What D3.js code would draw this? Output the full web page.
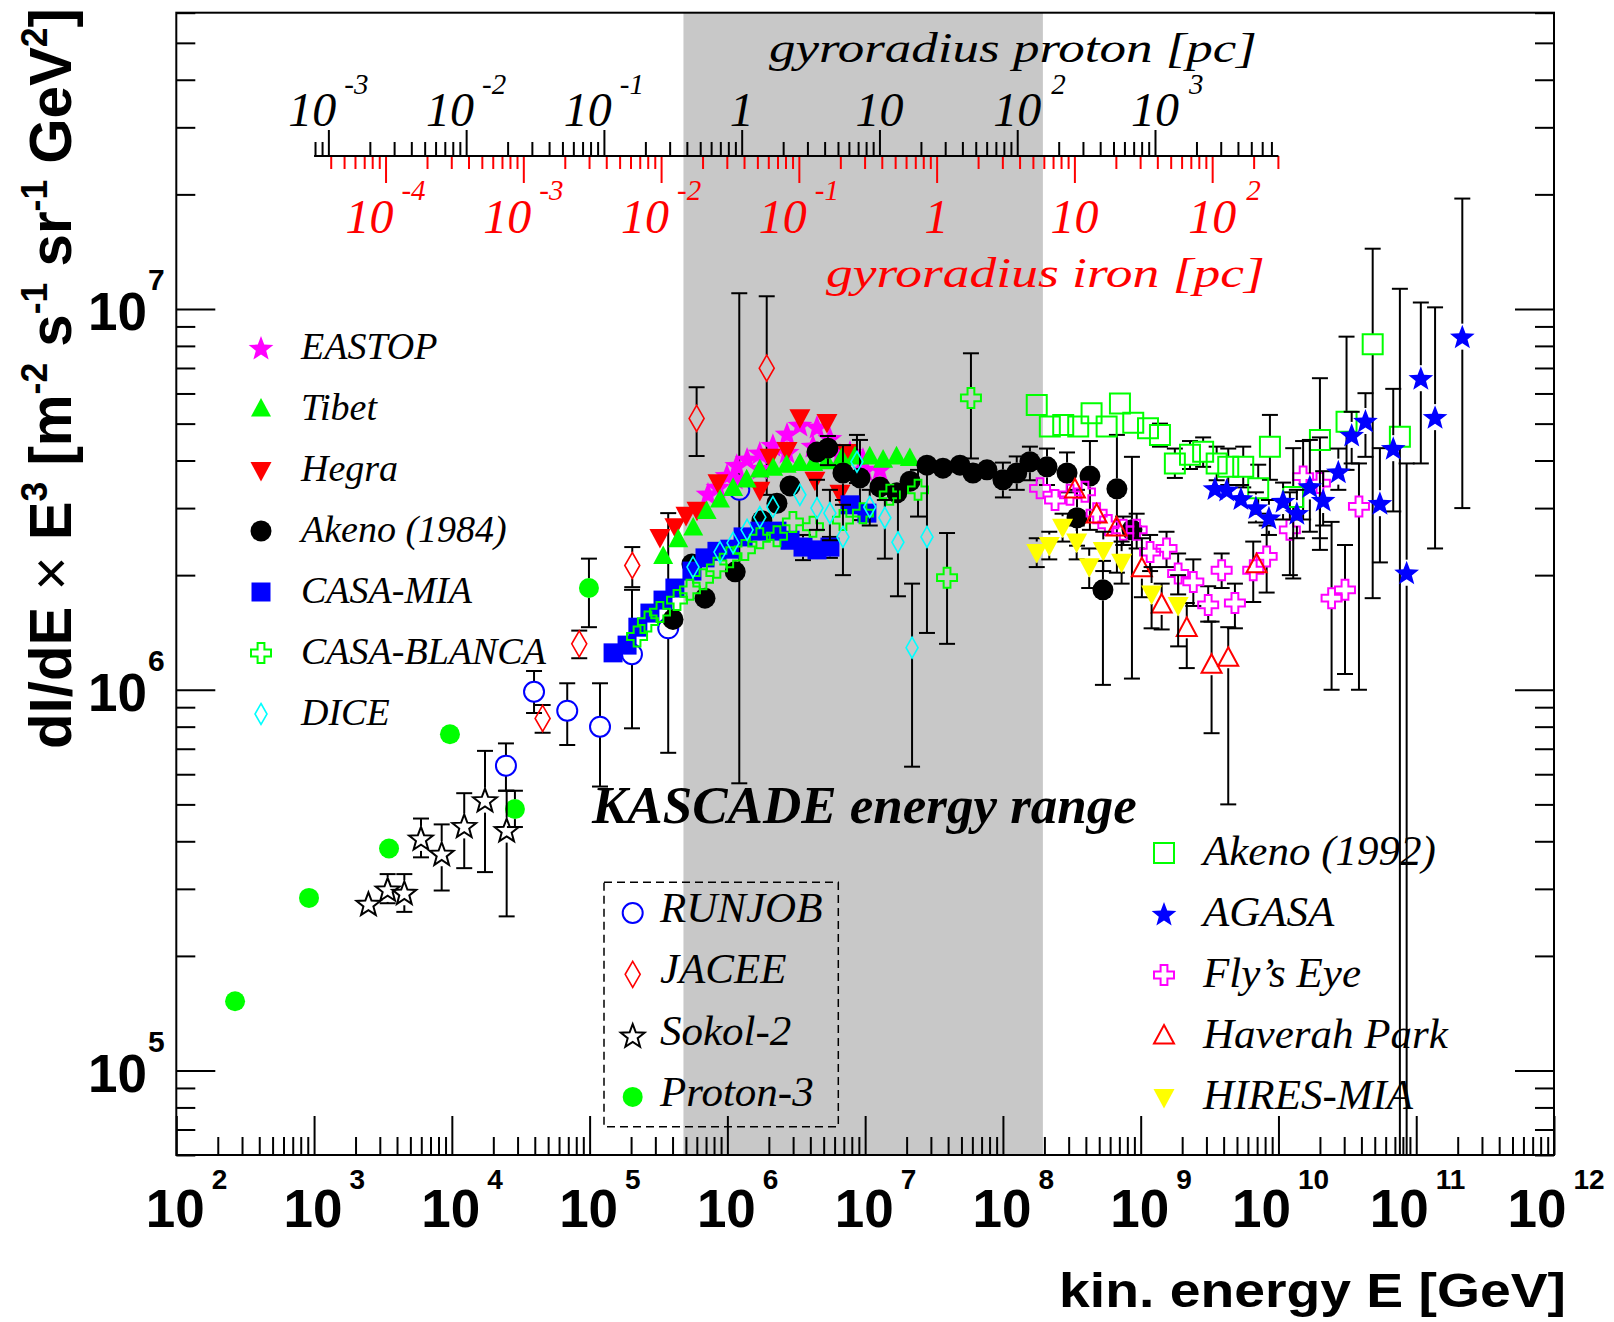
<!DOCTYPE html>
<html>
<head>
<meta charset="utf-8">
<title>Cosmic ray energy spectrum</title>
<script src="https://cdn.jsdelivr.net/npm/d3@7/dist/d3.min.js"></script>
<style>
  html, body { margin: 0; padding: 0; background: #fff; }
  svg { display: block; }
  text { white-space: pre; }
</style>
</head>
<body>
<svg id="chart" width="1614" height="1322"></svg>
<script>
// Energy E in GeV, flux dI/dE x E^3 in m^-2 s^-1 sr^-1 GeV^2.
// Rows: [E, flux] or [E, flux, lower, upper]; lower = 0 means the error bar reaches zero.
const proton3 = [
  [267, 1.52e5], [919, 2.84e5], [3.50e3, 3.83e5], [9.69e3, 7.64e5],
  [2.87e4, 4.86e5, 4.36e5, 5.43e5], [9.89e4, 1.85e6, 1.46e6, 2.21e6]
];
const sokol2 = [
  [2.48e3, 2.74e5], [3.42e3, 2.99e5, 2.75e5, 3.28e5], [4.52e3, 2.93e5, 2.61e5, 3.28e5],
  [5.97e3, 4.07e5, 3.63e5, 4.59e5], [8.44e3, 3.71e5, 2.97e5, 4.43e5],
  [1.23e4, 4.39e5, 3.40e5, 5.35e5], [1.74e4, 5.13e5, 3.32e5, 6.91e5],
  [2.50e4, 4.28e5, 2.54e5, 5.43e5]
];
const runjob = [
  [2.47e4, 6.32e5, 5.43e5, 7.23e5], [3.95e4, 9.88e5, 8.69e5, 1.12e6],
  [6.88e4, 8.81e5, 7.16e5, 1.04e6], [1.19e5, 8.00e5, 5.57e5, 1.04e6],
  [2.03e5, 1.24e6, 7.92e5, 1.83e6], [3.72e5, 1.45e6, 6.83e5, 2.91e6],
  [1.22e6, 3.35e6, 5.68e5, 1.10e7]
];
const jacee = [
  [4.56e4, 8.41e5, 7.71e5, 9.12e5], [8.41e4, 1.32e6, 1.21e6, 1.43e6],
  [2.04e5, 2.12e6, 1.86e6, 2.37e6], [5.98e5, 5.16e6, 4.11e6, 6.23e6],
  [1.93e6, 6.99e6, 3.25e6, 1.08e7]
];
const eastop = [
  [7.23e5, 3.27e6], [8.55e5, 3.41e6], [9.93e5, 3.66e6], [1.17e6, 3.89e6], [1.39e6, 4.04e6],
  [1.72e6, 4.19e6], [2.14e6, 4.39e6], [2.71e6, 4.70e6], [3.36e6, 4.96e6], [4.47e6, 4.90e6],
  [5.55e6, 4.58e6], [7.76e6, 4.21e6], [9.64e6, 4.04e6], [1.28e7, 3.80e6],
  [1.14e6, 3.60e6], [1.72e6, 3.82e6], [2.71e6, 4.21e6], [4.18e6, 4.37e6],
  [6.56e6, 4.14e6], [9.97e6, 3.78e6]
];
const hegra = [
  [3.24e5, 2.52e6], [4.16e5, 2.69e6], [5.01e5, 2.88e6], [6.02e5, 2.97e6], [8.55e5, 3.51e6],
  [1.72e6, 3.35e6], [2.04e6, 4.09e6], [2.71e6, 4.26e6], [3.36e6, 5.20e6], [4.32e6, 3.56e6],
  [5.28e6, 5.05e6], [6.56e6, 3.29e6], [7.38e6, 4.21e6]
];
const tibet = [
  [3.42e5, 2.24e6], [4.40e5, 2.48e6], [5.65e5, 2.66e6], [7.07e5, 2.94e6], [8.84e5, 3.15e6],
  [1.10e6, 3.38e6], [1.38e6, 3.56e6], [1.72e6, 3.78e6], [2.15e6, 3.82e6], [2.69e6, 3.89e6],
  [3.36e6, 3.93e6], [4.20e6, 3.93e6], [5.25e6, 3.97e6], [6.75e6, 4.05e6], [8.43e6, 4.09e6],
  [1.08e7, 4.09e6], [1.35e7, 4.01e6], [1.69e7, 4.09e6], [2.11e7, 4.05e6]
];
const akeno1984 = [
  [4.03e5, 1.53e6], [5.53e5, 2.14e6], [6.88e5, 1.74e6], [1.14e6, 2.04e6], [1.78e6, 2.78e6],
  [2.29e6, 3.09e6], [2.85e6, 3.43e6], [4.47e6, 4.21e6], [5.37e6, 4.31e6, 3.89e6, 4.64e6],
  [6.90e6, 3.71e6, 3.15e6, 4.39e6], [9.17e6, 3.60e6, 2.79e6, 4.53e6], [1.28e7, 3.41e6],
  [1.70e7, 3.29e6], [2.12e7, 3.53e6], [2.81e7, 3.89e6],
  [3.67e7, 3.82e6], [4.88e7, 3.89e6], [6.06e7, 3.71e6], [7.66e7, 3.78e6],
  [1.00e8, 3.56e6, 3.20e6, 3.95e6], [1.26e8, 3.71e6, 3.35e6, 4.10e6],
  [1.57e8, 3.97e6, 3.55e6, 4.35e6], [2.09e8, 3.85e6, 3.45e6, 4.30e6],
  [2.92e8, 3.71e6, 3.30e6, 4.20e6], [3.45e8, 2.83e6, 2.39e6, 3.35e6],
  [4.28e8, 3.64e6, 2.63e6, 4.50e6], [5.32e8, 1.83e6, 1.03e6, 2.18e6],
  [6.72e8, 3.37e6, 2.03e6, 4.67e6], [8.64e8, 2.63e6, 1.07e6, 4.09e6]
];
const casaMia = [
  [1.48e5, 1.25e6], [1.87e5, 1.31e6], [2.24e5, 1.46e6], [2.74e5, 1.59e6], [3.41e5, 1.72e6],
  [4.16e5, 1.85e6], [5.53e5, 2.05e6], [6.88e5, 2.22e6], [8.40e5, 2.31e6], [1.04e6, 2.34e6],
  [1.30e6, 2.52e6], [1.72e6, 2.61e6], [2.29e6, 2.61e6], [2.85e6, 2.47e6],
  [3.54e6, 2.37e6, 2.19e6, 2.55e6], [4.47e6, 2.33e6, 2.20e6, 2.45e6],
  [5.55e6, 2.37e6, 2.22e6, 2.52e6], [7.76e6, 3.06e6], [1.03e7, 2.91e6]
];
const casaBlanca = [
  [2.21e5, 1.38e6], [2.65e5, 1.51e6], [3.24e5, 1.60e6], [4.31e5, 1.72e6], [5.35e5, 1.83e6],
  [6.65e5, 1.95e6], [8.40e5, 2.09e6], [1.04e6, 2.23e6], [1.34e6, 2.33e6], [1.72e6, 2.50e6],
  [2.29e6, 2.53e6], [2.99e6, 2.76e6], [4.18e6, 2.68e6], [6.90e6, 2.79e6], [9.64e6, 2.91e6],
  [1.51e7, 3.25e6], [2.42e7, 3.35e6, 2.85e6, 3.78e6], [3.93e7, 1.97e6, 1.32e6, 2.58e6],
  [5.86e7, 5.84e6, 4.05e6, 7.65e6]
];
const dice = [
  [5.63e5, 2.10e6], [8.84e5, 2.30e6], [1.10e6, 2.43e6], [1.39e6, 2.63e6], [1.72e6, 2.84e6],
  [2.14e6, 3.02e6], [3.36e6, 3.25e6], [4.47e6, 3.00e6, 2.63e6, 3.56e6],
  [5.55e6, 2.91e6, 2.47e6, 3.35e6], [6.90e6, 2.52e6, 2.00e6, 3.06e6],
  [8.72e6, 3.97e6, 3.49e6, 4.67e6], [1.08e7, 3.02e6, 2.70e6, 3.35e6],
  [1.39e7, 2.83e6, 2.21e6, 3.15e6], [1.73e7, 2.44e6, 1.76e6, 3.42e6],
  [2.19e7, 1.29e6, 6.28e5, 1.90e6], [2.81e7, 2.52e6, 1.41e6, 3.78e6]
];
const akeno1992 = [
  [1.76e8, 5.60e6], [2.19e8, 4.91e6], [2.74e8, 4.96e6], [3.52e8, 4.91e6], [4.40e8, 5.32e6],
  [5.66e8, 4.91e6], [7.07e8, 5.65e6], [8.83e8, 5.03e6], [1.13e9, 4.86e6],
  [1.38e9, 4.67e6, 4.35e6, 5.00e6], [1.77e9, 3.93e6, 3.60e6, 4.30e6],
  [2.28e9, 4.14e6, 3.80e6, 4.50e6], [2.84e9, 4.22e6, 3.85e6, 4.60e6],
  [3.56e9, 3.93e6, 3.55e6, 4.35e6], [4.32e9, 3.85e6, 3.45e6, 4.30e6],
  [5.55e9, 3.85e6, 3.40e6, 4.35e6], [7.13e9, 3.38e6, 2.90e6, 3.90e6],
  [8.67e9, 4.35e6, 3.56e6, 5.27e6], [1.28e10, 3.21e6, 1.96e6, 4.31e6],
  [2.00e10, 4.53e6, 2.33e6, 6.58e6], [3.12e10, 5.06e6, 3.78e6, 8.46e6],
  [4.83e10, 8.08e6, 1.74e6, 1.44e7], [7.61e10, 4.62e6, 0, 1.13e7]
];
const agasa = [
  [3.46e9, 3.38e6, 3.15e6, 3.62e6], [4.21e9, 3.35e6, 3.10e6, 3.60e6],
  [5.34e9, 3.18e6, 2.95e6, 3.45e6], [6.86e9, 3.01e6, 2.75e6, 3.30e6],
  [8.53e9, 2.83e6, 2.55e6, 3.15e6], [1.08e10, 3.13e6, 2.80e6, 3.50e6],
  [1.36e10, 2.91e6, 2.50e6, 3.35e6], [1.69e10, 3.42e6, 2.60e6, 4.53e6],
  [2.11e10, 3.15e6, 2.70e6, 3.75e6], [2.72e10, 3.74e6, 3.35e6, 4.30e6],
  [3.40e10, 4.67e6, 3.93e6, 5.37e6], [4.28e10, 5.08e6, 4.09e6, 6.01e6],
  [5.45e10, 3.09e6, 2.16e6, 4.31e6], [6.81e10, 4.31e6, 2.94e6, 6.17e6],
  [8.52e10, 2.03e6, 0, 3.93e6], [1.08e11, 6.58e6, 3.93e6, 1.04e7],
  [1.37e11, 5.20e6, 2.35e6, 1.01e7], [2.16e11, 8.46e6, 3.00e6, 1.95e7]
];
const flysEye = [
  [1.86e8, 3.38e6], [2.39e8, 3.15e6], [3.07e8, 3.25e6], [3.94e8, 3.31e6], [4.79e8, 2.91e6],
  [5.82e8, 2.71e6], [7.47e8, 2.63e6, 2.40e6, 2.85e6], [9.35e8, 2.63e6, 2.35e6, 2.90e6],
  [1.17e9, 2.30e6, 2.05e6, 2.55e6], [1.54e9, 2.35e6, 2.10e6, 2.60e6],
  [1.87e9, 2.02e6, 1.78e6, 2.28e6], [2.41e9, 1.92e6, 1.66e6, 2.20e6],
  [3.09e9, 1.67e6, 1.51e6, 1.87e6], [3.87e9, 2.06e6, 1.85e6, 2.28e6],
  [4.83e9, 1.69e6, 1.45e6, 1.90e6], [6.56e9, 2.06e6, 1.70e6, 2.45e6],
  [8.21e9, 2.24e6, 1.80e6, 2.70e6], [1.21e10, 2.63e6, 2.00e6, 3.30e6],
  [1.51e10, 3.63e6, 2.80e6, 4.50e6], [2.00e10, 3.49e6, 2.50e6, 4.60e6],
  [2.43e10, 1.74e6, 1.00e6, 2.76e6], [3.04e10, 1.83e6, 1.10e6, 2.40e6],
  [3.84e10, 3.03e6, 1.00e6, 3.93e6]
];
const haverahPark = [
  [3.33e8, 3.35e6], [4.79e8, 2.88e6], [6.69e8, 2.66e6], [1.02e9, 2.08e6, 1.75e6, 2.50e6],
  [1.42e9, 1.67e6, 1.44e6, 1.90e6], [2.16e9, 1.45e6, 1.14e6, 1.69e6],
  [3.27e9, 1.16e6, 7.69e5, 1.51e6], [4.32e9, 1.21e6, 5.00e5, 1.46e6], [6.94e9, 2.13e6]
];
const hiresMia = [
  [1.76e8, 2.30e6, 2.10e6, 2.50e6], [2.17e8, 2.40e6, 2.20e6, 2.60e6],
  [2.71e8, 2.68e6, 2.45e6, 2.90e6], [3.43e8, 2.45e6, 2.20e6, 2.70e6],
  [4.23e8, 2.11e6, 1.85e6, 2.35e6], [5.35e8, 2.33e6, 2.05e6, 2.60e6],
  [7.27e8, 2.17e6, 1.90e6, 2.45e6], [1.20e9, 1.79e6, 1.45e6, 2.10e6],
  [1.87e9, 1.67e6, 1.30e6, 2.00e6]
];

// Axis ranges and tick labels
const energyDomain = [1e2, 1e12];
const fluxDomain = [6e4, 6e7];
const kascadeRange = [4.8e5, 1.95e8];
const energyLabelExps = [2, 3, 4, 5, 6, 7, 8, 9, 10, 11, 12];
const fluxLabelExps = [5, 6, 7];
const gyroEnergyRange = [1e3, 1e10];
const gevPerParsec = 1.27e6;   // proton energy whose gyroradius is 1 pc
const ironCharge = 26;
const protonLabelExps = [-3, -2, -1, 0, 1, 2, 3];
const ironLabelExps = [-4, -3, -2, -1, 0, 1, 2];

// Marker styles for every experiment
const SERIES = {
  "EASTOP":       { data: eastop,      shape: "star",     size: 26, color: "#ff00ff", fill: true },
  "Tibet":        { data: tibet,       shape: "triUp",    size: 20, color: "#00ff00", fill: true },
  "Hegra":        { data: hegra,       shape: "triDown",  size: 21, color: "#ff0000", fill: true },
  "Akeno (1984)": { data: akeno1984,   shape: "circle",   size: 21, color: "#000000", fill: true },
  "CASA-MIA":     { data: casaMia,     shape: "square",   size: 19, color: "#0000ff", fill: true },
  "CASA-BLANCA":  { data: casaBlanca,  shape: "cross",    size: 20, color: "#00ff00", fill: false },
  "DICE":         { data: dice,        shape: "diamond",  size: 21, width: 12, color: "#00ffff", fill: false },
  "RUNJOB":       { data: runjob,      shape: "circle",   size: 20, color: "#0000ff", fill: false },
  "JACEE":        { data: jacee,       shape: "diamond",  size: 26, width: 15, color: "#ff0000", fill: false },
  "Sokol-2":      { data: sokol2,      shape: "star",     size: 25, color: "#000000", fill: false },
  "Proton-3":     { data: proton3,     shape: "circle",   size: 20, color: "#00ff00", fill: true },
  "Akeno (1992)": { data: akeno1992,   shape: "square",   size: 20, color: "#00ff00", fill: false },
  "AGASA":        { data: agasa,       shape: "star",     size: 26, color: "#0000ff", fill: true },
  "Fly\u2019s Eye": { data: flysEye,   shape: "cross",    size: 20, color: "#ff00ff", fill: false },
  "Haverah Park": { data: haverahPark, shape: "triUp",    size: 20, color: "#ff0000", fill: false },
  "HIRES-MIA":    { data: hiresMia,    shape: "triDown",  size: 21, color: "#ffff00", fill: true }
};
const drawOrder = ["Proton-3", "Sokol-2", "RUNJOB", "JACEE", "EASTOP", "Hegra", "Tibet",
  "Akeno (1984)", "CASA-MIA", "CASA-BLANCA", "DICE", "Fly\u2019s Eye", "Haverah Park",
  "HIRES-MIA", "Akeno (1992)", "AGASA"];
const legendLeft = ["EASTOP", "Tibet", "Hegra", "Akeno (1984)", "CASA-MIA", "CASA-BLANCA", "DICE"];
const legendBox = ["RUNJOB", "JACEE", "Sokol-2", "Proton-3"];
const legendRight = ["Akeno (1992)", "AGASA", "Fly\u2019s Eye", "Haverah Park", "HIRES-MIA"];

const SANS = "'Liberation Sans', Arial, Helvetica, sans-serif";
const SERIF = "'Liberation Serif', 'Times New Roman', Times, serif";

const svg = d3.select("#chart");
const frame = { left: 176.3, right: 1554, top: 12.7, bottom: 1155 };
const x = d3.scaleLog().domain(energyDomain).range([frame.left, frame.right]);
const y = d3.scaleLog().domain(fluxDomain).range([frame.bottom, frame.top]);

function decadeTicks(lo, hi) {
  const major = [], minor = [];
  for (let e = Math.floor(Math.log10(lo)) - 1; e <= Math.ceil(Math.log10(hi)); e++) {
    for (let m = 1; m <= 9; m++) {
      const v = m * Math.pow(10, e);
      if (v < lo * (1 - 1e-9) || v > hi * (1 + 1e-9)) continue;
      (m === 1 ? major : minor).push(v);
    }
  }
  return { major, minor };
}

function tickLayer(parent, axis, values, size, color) {
  const g = parent.append("g")
    .call(axis.tickValues(values).tickSize(size).tickSizeOuter(0).tickFormat(""));
  g.select(".domain").remove();
  g.attr("color", color || "#000");
  g.selectAll("line").attr("stroke-width", 2);
  return g;
}

// stretch a text horizontally about its anchor point to a given advance width
function fitText(sel, width) {
  const w = sel.node().getComputedTextLength();
  const x0 = +sel.attr("x"), y0 = +sel.attr("y");
  sel.attr("transform", `translate(${x0},${y0}) scale(${width / w},1) translate(${-x0},${-y0})`);
  return sel;
}

// ---- KASCADE energy band ----
svg.append("rect")
  .attr("x", x(kascadeRange[0])).attr("y", frame.top)
  .attr("width", x(kascadeRange[1]) - x(kascadeRange[0]))
  .attr("height", frame.bottom - frame.top)
  .attr("fill", "#c8c8c8");

// ---- energy and flux axes ----
const xt = decadeTicks(...energyDomain);
const gX = svg.append("g").attr("transform", `translate(0,${frame.bottom})`);
tickLayer(gX, d3.axisTop(x), xt.minor, 18);
tickLayer(gX, d3.axisTop(x), xt.major, 39);

const ytk = decadeTicks(...fluxDomain);
const gYL = svg.append("g").attr("transform", `translate(${frame.left},0)`);
tickLayer(gYL, d3.axisRight(y), ytk.minor, 19);
tickLayer(gYL, d3.axisRight(y), ytk.major, 39);
const gYR = svg.append("g").attr("transform", `translate(${frame.right},0)`);
tickLayer(gYR, d3.axisLeft(y), ytk.minor, 19);
tickLayer(gYR, d3.axisLeft(y), ytk.major, 39);

energyLabelExps.forEach(e => {
  const t = x(Math.pow(10, e));
  const shift = String(e).length > 1 ? -17 : -1;
  const base = svg.append("text").attr("x", t + shift).attr("y", 1227)
    .attr("text-anchor", "middle").attr("font-family", SANS).attr("font-weight", "bold")
    .attr("font-size", 53).text("10");
  const bw = base.node().getComputedTextLength();
  svg.append("text").attr("x", t + shift + bw / 2 + 7).attr("y", 1189)
    .attr("font-family", SANS).attr("font-weight", "bold").attr("font-size", 28).text(e);
});

fluxLabelExps.forEach(e => {
  const t = y(Math.pow(10, e));
  svg.append("text").attr("x", 147).attr("y", t + 21).attr("text-anchor", "end")
    .attr("font-family", SANS).attr("font-weight", "bold").attr("font-size", 53).text("10");
  svg.append("text").attr("x", 148).attr("y", t - 19)
    .attr("font-family", SANS).attr("font-weight", "bold").attr("font-size", 30).text(e);
});

// ---- gyroradius axes (proton above, iron below) ----
const rP = d3.scaleLog().domain(gyroEnergyRange.map(E => E / gevPerParsec)).range(gyroEnergyRange.map(x));
const rFe = d3.scaleLog().domain(gyroEnergyRange.map(E => E / (gevPerParsec * ironCharge))).range(gyroEnergyRange.map(x));
const gyroY = 156;
const gG = svg.append("g").attr("transform", `translate(0,${gyroY})`);
const pt = decadeTicks(...rP.domain());
tickLayer(gG, d3.axisTop(rP), pt.minor, 14);
tickLayer(gG, d3.axisTop(rP), pt.major, 26);
const ft = decadeTicks(...rFe.domain());
tickLayer(gG, d3.axisBottom(rFe), ft.minor, 13, "#ff0000");
tickLayer(gG, d3.axisBottom(rFe), ft.major, 27, "#ff0000");
gG.append("line").attr("x1", rP.range()[0]).attr("x2", rP.range()[1])
  .attr("stroke", "#000").attr("stroke-width", 2);

function gyroLabel(scale, e, baseY, expY, color) {
  const t = scale(Math.pow(10, e));
  const common = sel => sel.attr("font-family", SERIF).attr("font-style", "italic").attr("fill", color);
  if (e === 0 || e === 1) {
    svg.append("text").call(common).attr("x", t).attr("y", baseY).attr("text-anchor", "middle")
      .attr("font-size", 48).text(e === 0 ? "1" : "10");
    return;
  }
  const base = svg.append("text").call(common).attr("y", baseY).attr("font-size", 48).text("10");
  const ex = svg.append("text").call(common).attr("y", expY).attr("font-size", 29).text(e);
  const bw = base.node().getComputedTextLength(), ew = ex.node().getComputedTextLength();
  let bx;
  if (e < 0) { bx = t - (bw + 8 + ew) / 2; ex.attr("x", bx + bw + 8); }
  else { bx = t - bw / 2; ex.attr("x", bx + bw + 10); }
  base.attr("x", bx);
}
protonLabelExps.forEach(e => gyroLabel(rP, e, 126, 94, "#000"));
ironLabelExps.forEach(e => gyroLabel(rFe, e, 233, 200, "#ff0000"));

fitText(svg.append("text").attr("x", 769).attr("y", 62).attr("font-family", SERIF)
  .attr("font-style", "italic").attr("font-size", 43).attr("fill", "#000")
  .text("gyroradius proton [pc]"), 488);
fitText(svg.append("text").attr("x", 826).attr("y", 287).attr("font-family", SERIF)
  .attr("font-style", "italic").attr("font-size", 43).attr("fill", "#ff0000")
  .text("gyroradius iron [pc]"), 439);

// ---- markers ----
function shapePath(shape, s, w) {
  const h = s / 2;
  switch (shape) {
    case "circle": return `M${-h},0A${h},${h} 0 1,0 ${h},0A${h},${h} 0 1,0 ${-h},0Z`;
    case "square": return `M${-h},${-h}H${h}V${h}H${-h}Z`;
    case "triUp": return `M0,${-0.55 * s}L${h},${0.38 * s}L${-h},${0.38 * s}Z`;
    case "triDown": return `M0,${0.55 * s}L${h},${-0.38 * s}L${-h},${-0.38 * s}Z`;
    case "diamond": { const hw = (w || s * 0.6) / 2; return `M0,${-h}L${hw},0L0,${h}L${-hw},0Z`; }
    case "cross": {
      const a = s * 0.17;
      return `M${-a},${-h}H${a}V${-a}H${h}V${a}H${a}V${h}H${-a}V${a}H${-h}V${-a}H${-a}Z`;
    }
    case "star": {
      const pts = [];
      for (let i = 0; i < 10; i++) {
        const r = i % 2 === 0 ? h : h * 0.42;
        const ang = -Math.PI / 2 + i * Math.PI / 5;
        pts.push([r * Math.cos(ang), r * Math.sin(ang) + h * 0.08]);
      }
      return "M" + pts.map(p => p.map(v => v.toFixed(2)).join(",")).join("L") + "Z";
    }
  }
}

function drawMarker(parent, st, cx, cy) {
  parent.append("path")
    .attr("d", shapePath(st.shape, st.size, st.width))
    .attr("transform", `translate(${cx},${cy})`)
    .attr("fill", st.fill ? st.color : "none")
    .attr("stroke", st.fill ? "none" : st.color)
    .attr("stroke-width", st.shape === "diamond" ? 1.6 : 2);
}

function drawSeries(name) {
  const st = SERIES[name];
  const g = svg.append("g");
  const half = st.size / 2;
  const cap = 8;
  const seg = (x1, y1, x2, y2) => g.append("line").attr("x1", x1).attr("y1", y1)
    .attr("x2", x2).attr("y2", y2).attr("stroke", "#000").attr("stroke-width", 2);
  st.data.forEach(d => {
    if (d.length < 4) return;
    const cx = x(d[0]), cy = y(d[1]);
    const yHi = y(d[3]);
    if (yHi < cy - half) { seg(cx, yHi, cx, cy - half); seg(cx - cap, yHi, cx + cap, yHi); }
    const toZero = !(d[2] > fluxDomain[0]);
    const yLo = toZero ? frame.bottom : y(d[2]);
    if (yLo > cy + half) { seg(cx, cy + half, cx, yLo); if (!toZero) seg(cx - cap, yLo, cx + cap, yLo); }
  });
  st.data.forEach(d => drawMarker(g, st, x(d[0]), y(d[1])));
}
drawOrder.forEach(drawSeries);

// ---- legends ----
function legend(names, symX, textX, y0, step, fontSize, dyText) {
  names.forEach((n, i) => {
    const cy = y0 + i * step;
    drawMarker(svg, SERIES[n], symX, cy);
    svg.append("text").attr("x", textX).attr("y", cy + dyText)
      .attr("font-family", SERIF).attr("font-style", "italic").attr("font-size", fontSize)
      .attr("fill", "#000").text(n);
  });
}
legend(legendLeft, 261, 301, 348, 61, 38, 11);
svg.append("rect").attr("x", 604).attr("y", 882.3).attr("width", 234.3).attr("height", 244.4)
  .attr("fill", "none").attr("stroke", "#000").attr("stroke-width", 1.5).attr("stroke-dasharray", "8,5");
legend(legendBox, 632.7, 660, 913, 61.3, 43, 9);
legend(legendRight, 1164, 1203, 853, 61, 43, 12);

// ---- titles ----
fitText(svg.append("text").attr("x", 592).attr("y", 823).attr("font-family", SERIF)
  .attr("font-style", "italic").attr("font-weight", "bold").attr("font-size", 52)
  .text("KASCADE energy range"), 545);

fitText(svg.append("text").attr("x", 1566).attr("y", 1307).attr("text-anchor", "end")
  .attr("font-family", SANS).attr("font-weight", "bold").attr("font-size", 48)
  .text("kin. energy E [GeV]"), 507);

const yTitle = svg.append("g").attr("transform", "translate(71,749) rotate(-90)")
  .append("text").attr("x", 0).attr("y", 0)
  .attr("font-family", SANS).attr("font-weight", "bold").attr("font-size", 59);
const titleParts = [["dI/dE ", 0], ["\u00d7", 2], [" E", 0], ["3", 1], [" [m", 0], ["-2", 1],
  [" s", 0], ["-1", 1], [" sr", 0], ["-1", 1], [" GeV", 0], ["2", 1], ["]", 0]];
let raised = false;
titleParts.forEach(([txt, kind]) => {
  const ts = yTitle.append("tspan").text(txt);
  if (kind === 1) { ts.attr("font-size", 36).attr("dy", raised ? 0 : -24); raised = true; }
  else { if (raised) ts.attr("dy", 24); raised = false; }
  if (kind === 2) ts.attr("font-weight", "normal");
});
fitText(yTitle, 741);

// ---- frame ----
svg.append("rect").attr("x", frame.left).attr("y", frame.top)
  .attr("width", frame.right - frame.left).attr("height", frame.bottom - frame.top)
  .attr("fill", "none").attr("stroke", "#000").attr("stroke-width", 2);
</script>
</body>
</html>
